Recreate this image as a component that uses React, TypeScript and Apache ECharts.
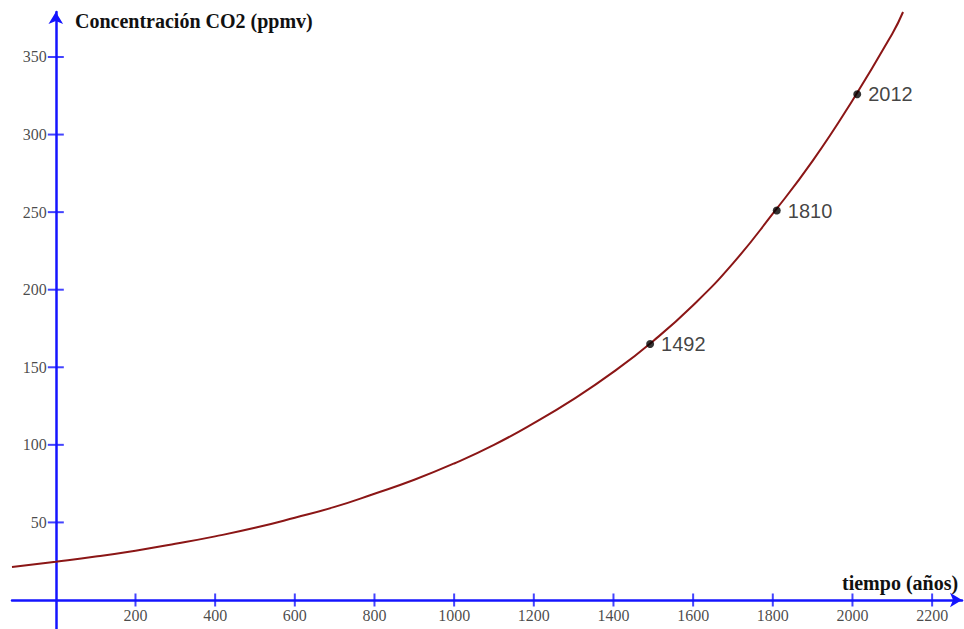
import React, { useEffect, useRef } from "react";
import * as echarts from "echarts";

// Curve: year -> CO2 ppmv
const curveYears = [-110, 0, 100, 200, 300, 400, 500, 600, 700, 800, 900, 1000, 1100, 1200, 1300, 1400, 1500, 1600, 1700, 1800, 1900, 2000, 2100, 2127];
const curveValues = [21.3, 24.7, 28, 31.8, 36.2, 41, 46.5, 53, 60, 68.5, 77.5, 88, 100, 114, 129.5, 147, 167, 190, 217, 249, 283, 322, 365, 379];

// Marked points
const pointYears = [1492, 1810, 2012];
const pointValues = [165, 251, 326];

// Tick labels
const xTicks = [200, 400, 600, 800, 1000, 1200, 1400, 1600, 1800, 2000, 2200];
const yTicks = [50, 100, 150, 200, 250, 300, 350];

const xTitle = "tiempo (años)";
const yTitle = "Concentración CO2 (ppmv)";

const AXIS_BLUE = "#1414ff";

export default function App() {
  const ref = useRef<HTMLDivElement>(null);
  useEffect(() => {
    if (!ref.current) return;
    const chart = echarts.init(ref.current, null, { renderer: "svg" });
    const labelFont = { fontFamily: "Liberation Serif", fontSize: 16, color: "#1a1a1a" };
    chart.setOption({
      animation: false,
      backgroundColor: "#ffffff",
      grid: { left: 12, top: 12, width: 950, height: 617, containLabel: false, outerBoundsMode: "none" },
      xAxis: {
        type: "value",
        min: -110,
        max: 2275,
        splitLine: { show: false },
        axisLine: { onZero: true, lineStyle: { color: AXIS_BLUE, width: 2.5 }, symbol: ["none", "arrow"], symbolSize: [11, 12] },
        axisTick: { show: false },
        axisLabel: { show: false },
      },
      yAxis: {
        type: "value",
        min: -18.7,
        max: 379,
        splitLine: { show: false },
        axisLine: { onZero: true, lineStyle: { color: AXIS_BLUE, width: 2.5 }, symbol: ["none", "arrow"], symbolSize: [11, 12] },
        axisTick: { show: false },
        axisLabel: { show: false },
      },
      graphic: [
        {
          type: "text",
          left: 75,
          top: 11,
          style: { text: yTitle, font: "bold 20px 'Liberation Serif'", fill: "#111" },
        },
        {
          type: "text",
          left: 842,
          top: 573,
          style: { text: xTitle, font: "bold 20px 'Liberation Serif'", fill: "#111" },
        },
      ],
      series: [
        {
          type: "line",
          data: curveYears.map((x, i) => [x, curveValues[i]]),
          smooth: true,
          showSymbol: false,
          clip: true,
          lineStyle: { color: "#8b1616", width: 2 },
          z: 3,
        },
        {
          type: "scatter",
          data: xTicks.map((x) => [x, 0]),
          symbol: "rect",
          symbolSize: [2, 13],
          itemStyle: { color: AXIS_BLUE },
          label: {
            show: true,
            position: "bottom",
            distance: 1,
            formatter: (p: any) => String(p.data[0]),
            ...labelFont,
          },
          z: 2,
        },
        {
          type: "scatter",
          data: yTicks.map((y) => [0, y]),
          symbol: "rect",
          symbolSize: [16, 2],
          itemStyle: { color: AXIS_BLUE },
          label: {
            show: true,
            position: "left",
            distance: 1,
            formatter: (p: any) => String(p.data[1]),
            ...labelFont,
          },
          z: 2,
        },
        {
          type: "scatter",
          data: pointYears.map((x, i) => [x, pointValues[i], String(x)]),
          symbol: "circle",
          symbolSize: 8,
          itemStyle: { color: "#000" },
          label: {
            show: true,
            position: "right",
            distance: 7,
            formatter: (p: any) => p.data[2],
            fontFamily: "Liberation Sans",
            fontSize: 20,
            color: "#111",
          },
          z: 4,
        },
      ],
    });
    return () => chart.dispose();
  }, []);
  return (
    <div
      ref={ref}
      style={{ position: "absolute", left: 0, top: 0, width: 964, height: 629 }}
    />
  );
}
